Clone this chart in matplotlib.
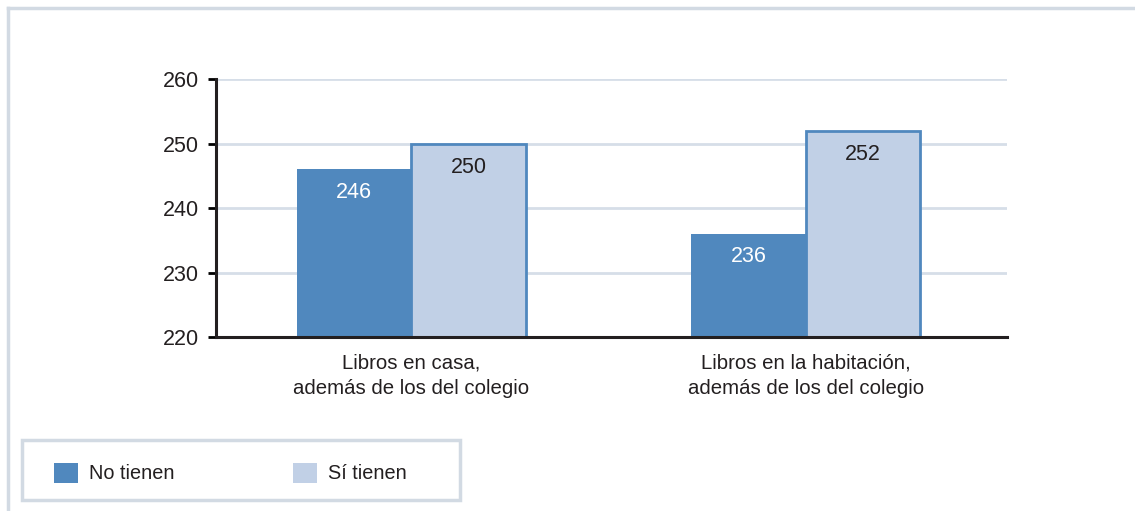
import matplotlib
matplotlib.use('Agg')

import numpy as np
import matplotlib.pyplot as plt
from matplotlib.patches import Patch, Rectangle
from matplotlib.lines import Line2D

# === Data ===
categories = ["Libros en casa,\nademás de los del colegio",
              "Libros en la habitación,\nademás de los del colegio"]
series_names = ["No tienen", "Sí tienen"]
no_tienen = [246, 236]
si_tienen = [250, 252]

dark = "#5088be"
light = "#c1d0e6"
grid_col = "#d6dee8"
frame_col = "#d2dae3"
text_col = "#231f20"

plt.rcParams['font.family'] = ['Liberation Sans', 'DejaVu Sans']
plt.rcParams['font.size'] = 14

fig = plt.figure(figsize=(11.35, 5.11), dpi=100)
ax = fig.add_axes([216 / 1135, 1 - 337 / 511, 791 / 1135, 258 / 511])

x = np.arange(len(categories))
w = 0.29
ax.bar(x - w / 2, np.array(no_tienen) - 220, w, bottom=220, color=dark,
       edgecolor=dark, linewidth=0, zorder=2)
ax.bar(x + w / 2, np.array(si_tienen) - 220, w, bottom=220, color=light,
       edgecolor=dark, linewidth=2, zorder=2)

for xi, v in zip(x - w / 2, no_tienen):
    ax.annotate(str(v), (xi, v), xytext=(0, -9), textcoords="offset points",
                ha="center", va="top", color="white", fontsize=15.5)
for xi, v in zip(x + w / 2, si_tienen):
    ax.annotate(str(v), (xi, v), xytext=(0, -10), textcoords="offset points",
                ha="center", va="top", color=text_col, fontsize=15.5)

ax.set_ylim(220, 260)
ax.set_xlim(-0.495, 1.51)
ax.set_yticks([220, 230, 240, 250, 260])
ax.set_xticks(x)
ax.set_xticklabels(categories, color=text_col, fontsize=14.7, linespacing=1.4)
ax.tick_params(axis='x', length=0, pad=12)
ax.tick_params(axis='y', length=6, width=2, direction='out', labelsize=15.5,
               labelcolor=text_col, pad=6)
for yv in [230, 240, 250, 260]:
    ax.axhline(yv, color=grid_col, linewidth=2, zorder=1)
ax.spines['top'].set_visible(False)
ax.spines['right'].set_visible(False)
ax.spines['left'].set_linewidth(2.2)
ax.spines['bottom'].set_linewidth(2.2)
ax.spines['left'].set_color(text_col)
ax.spines['bottom'].set_color(text_col)

# outer frame lines
fig.add_artist(Line2D([8 / 1135, 1], [1 - 8 / 511, 1 - 8 / 511],
                      transform=fig.transFigure, color=frame_col, linewidth=2.5))
fig.add_artist(Line2D([8 / 1135, 8 / 1135], [0, 1 - 8 / 511],
                      transform=fig.transFigure, color=frame_col, linewidth=2.5))

# legend box
fig.add_artist(Rectangle((22 / 1135, 1 - 500 / 511), 438 / 1135, 60 / 511,
                         transform=fig.transFigure, facecolor="white",
                         edgecolor=frame_col, linewidth=2.5))
handles = [Patch(facecolor=dark, edgecolor='none'),
           Patch(facecolor=light, edgecolor='none')]
fig.legend(handles, series_names, loc='center left',
           bbox_to_anchor=(36 / 1135, 1 - 473 / 511), ncol=2, frameon=False,
           fontsize=14.3, handlelength=1.2, handleheight=1.2,
           handletextpad=0.55, columnspacing=6.0, labelcolor=text_col)

plt.savefig("out.png", dpi=100)
